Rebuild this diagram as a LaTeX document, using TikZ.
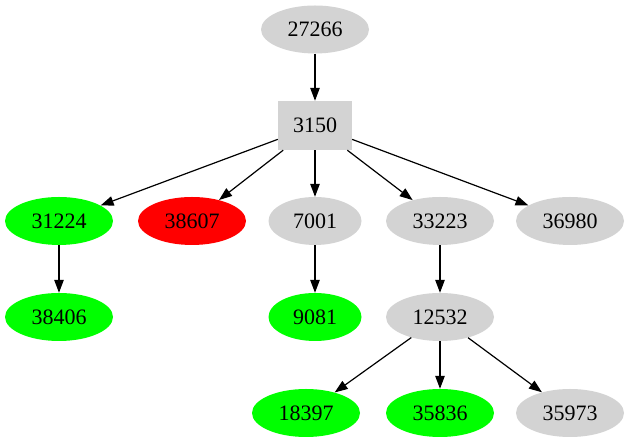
\documentclass[tikz,border=0pt]{standalone}
\usepackage{fontspec}
\setmainfont{Liberation Serif}
\usetikzlibrary{shapes.geometric,arrows.meta}
\definecolor{GVGray}{HTML}{D3D3D3}
\definecolor{GVGreen}{HTML}{00FF00}
\definecolor{GVRed}{HTML}{FF0000}
\begin{document}
\begin{tikzpicture}[x=1pt,y=1pt,>={Triangle[length=13pt,width=9.5pt]},
    every node/.style={font=\fontsize{22}{26}\selectfont,inner sep=0pt},
    oval/.style={ellipse,minimum width=108pt,minimum height=48pt},
    ovalsm/.style={oval,minimum width=93pt},
    edge/.style={->,line width=1.2pt}]
  \useasboundingbox (0,0) rectangle (630,443);
  \node[oval,fill=GVGray] (n27266) at (315,413.5) {27266};
  \node[rectangle,fill=GVGray,minimum width=74pt,minimum height=49pt] (n3150) at (315,317.5) {3150};
  \node[oval,fill=GVGreen] (n31224) at (59,222) {31224};
  \node[oval,fill=GVRed] (n38607) at (192,222) {38607};
  \node[ovalsm,fill=GVGray] (n7001) at (315,222) {7001};
  \node[oval,fill=GVGray] (n33223) at (440,222) {33223};
  \node[oval,fill=GVGray] (n36980) at (570,222) {36980};
  \node[oval,fill=GVGreen] (n38406) at (59,126) {38406};
  \node[ovalsm,fill=GVGreen] (n9081) at (315,126) {9081};
  \node[oval,fill=GVGray] (n12532) at (440,126) {12532};
  \node[oval,fill=GVGreen] (n18397) at (306,30) {18397};
  \node[oval,fill=GVGreen] (n35836) at (440,30) {35836};
  \node[oval,fill=GVGray] (n35973) at (570,30) {35973};
  \draw[edge] (n27266)--(n3150);
  \draw[edge] (n3150)--(n31224);
  \draw[edge] (n3150)--(n38607);
  \draw[edge] (n3150)--(n7001);
  \draw[edge] (n3150)--(n33223);
  \draw[edge] (n3150)--(n36980);
  \draw[edge] (n31224)--(n38406);
  \draw[edge] (n7001)--(n9081);
  \draw[edge] (n33223)--(n12532);
  \draw[edge] (n12532)--(n18397);
  \draw[edge] (n12532)--(n35836);
  \draw[edge] (n12532)--(n35973);
\end{tikzpicture}
\end{document}
